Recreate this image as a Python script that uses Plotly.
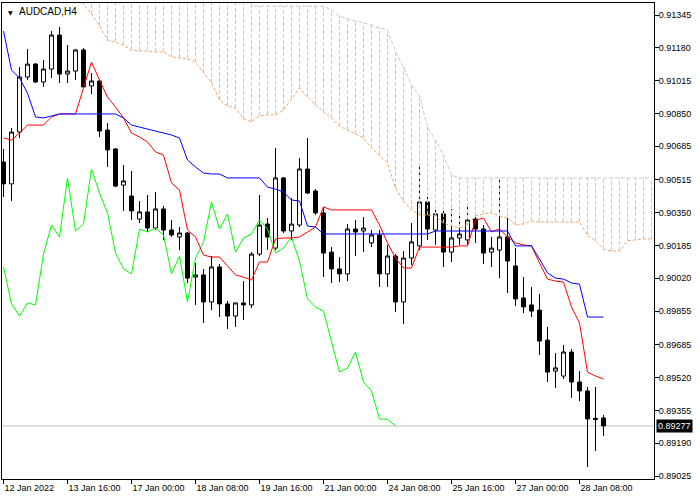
import plotly.graph_objects as go

# ---------------- data (AUDCAD, H4) ----------------
bar_index = list(range(76))

opens = [0.90605, 0.90495, 0.90756, 0.91033, 0.91098, 0.91008, 0.91073, 0.91244, 0.91048, 0.91063,
         0.91169, 0.90988, 0.91013, 0.90766, 0.90671, 0.90489, 0.90434, 0.90318, 0.90354, 0.90273,
         0.90369, 0.90263, 0.90228, 0.90248, 0.90026, 0.90037, 0.89901, 0.90077, 0.89891, 0.89830,
         0.89896, 0.89886, 0.90142, 0.90293, 0.90172, 0.90525, 0.90258, 0.90288, 0.90570, 0.90459,
         0.90349, 0.90152, 0.90067, 0.90042, 0.90268, 0.90258, 0.90198, 0.90238, 0.90042, 0.90132,
         0.89901, 0.90122, 0.90183, 0.90404, 0.90263, 0.90344, 0.90152, 0.90223, 0.90213, 0.90318,
         0.90268, 0.90152, 0.90162, 0.90228, 0.90082, 0.89921, 0.89886, 0.89860, 0.89709, 0.89553,
         0.89528, 0.89649, 0.89498, 0.89453, 0.89315, 0.89317]

highs = [0.90671, 0.90776, 0.91083, 0.91174, 0.91103, 0.91119, 0.91264, 0.91285, 0.91194, 0.91174,
         0.91179, 0.91053, 0.91018, 0.90801, 0.90676, 0.90590, 0.90560, 0.90409, 0.90439, 0.90454,
         0.90384, 0.90313, 0.90278, 0.90253, 0.90097, 0.90067, 0.90132, 0.90092, 0.89906, 0.89896,
         0.90006, 0.90152, 0.90439, 0.90323, 0.90676, 0.90530, 0.90424, 0.90625, 0.90726, 0.90469,
         0.90379, 0.90177, 0.90127, 0.90293, 0.90313, 0.90328, 0.90263, 0.90263, 0.90188, 0.90142,
         0.90157, 0.90298, 0.90585, 0.90429, 0.90374, 0.90374, 0.90369, 0.90354, 0.90379, 0.90328,
         0.90288, 0.90228, 0.90520, 0.90344, 0.90172, 0.90026, 0.89976, 0.89941, 0.89775, 0.89644,
         0.89684, 0.89664, 0.89553, 0.89473, 0.89473, 0.89332]

lows = [0.90429, 0.90409, 0.90726, 0.91018, 0.91003, 0.90983, 0.91028, 0.91003, 0.91003, 0.91018,
        0.90978, 0.90947, 0.90731, 0.90580, 0.90479, 0.90359, 0.90313, 0.90298, 0.90253, 0.90263,
        0.90213, 0.90228, 0.90162, 0.89996, 0.89886, 0.89795, 0.89860, 0.89825, 0.89765, 0.89775,
        0.89810, 0.89870, 0.90132, 0.90162, 0.90162, 0.90248, 0.90213, 0.90278, 0.90444, 0.90339,
        0.90026, 0.89996, 0.90001, 0.90006, 0.90132, 0.90152, 0.90177, 0.89976, 0.89976, 0.89850,
        0.89790, 0.90087, 0.90162, 0.90213, 0.90188, 0.90077, 0.90102, 0.90188, 0.90188, 0.90198,
        0.90092, 0.90077, 0.90021, 0.89946, 0.89881, 0.89845, 0.89825, 0.89634, 0.89498, 0.89468,
        0.89513, 0.89418, 0.89402, 0.89070, 0.89151, 0.89226]

closes = [0.90495, 0.90756, 0.91033, 0.91098, 0.91008, 0.91073, 0.91244, 0.91048, 0.91063, 0.91169,
          0.90983, 0.91013, 0.90761, 0.90666, 0.90484, 0.90510, 0.90359, 0.90354, 0.90273, 0.90369,
          0.90263, 0.90238, 0.90248, 0.90021, 0.90037, 0.89901, 0.90077, 0.89891, 0.89830, 0.89896,
          0.89886, 0.90142, 0.90288, 0.90228, 0.90525, 0.90258, 0.90293, 0.90570, 0.90449, 0.90349,
          0.90147, 0.90067, 0.90042, 0.90268, 0.90253, 0.90273, 0.90238, 0.90042, 0.90132, 0.89901,
          0.90122, 0.90203, 0.90404, 0.90268, 0.90344, 0.90152, 0.90223, 0.90243, 0.90313, 0.90268,
          0.90147, 0.90172, 0.90228, 0.90107, 0.89916, 0.89876, 0.89855, 0.89704, 0.89548, 0.89569,
          0.89649, 0.89498, 0.89453, 0.89312, 0.89310, 0.89277]

tenkan = [0.90726, 0.90716, 0.90751, 0.90791, 0.90791, 0.90791, 0.90832, 0.90847, 0.90847, 0.90847,
          0.90978, 0.91108, 0.91018, 0.90932, 0.90882, 0.90827, 0.90751, 0.90731, 0.90706, 0.90656,
          0.90640, 0.90500, 0.90464, 0.90263, 0.90228, 0.90137, 0.90127, 0.90127, 0.90082, 0.90037,
          0.90026, 0.90011, 0.90102, 0.90102, 0.90218, 0.90223, 0.90223, 0.90228, 0.90253, 0.90278,
          0.90379, 0.90364, 0.90364, 0.90364, 0.90364, 0.90364, 0.90364, 0.90288, 0.90198, 0.90122,
          0.90072, 0.90072, 0.90177, 0.90177, 0.90177, 0.90177, 0.90177, 0.90183, 0.90183, 0.90313,
          0.90323, 0.90253, 0.90268, 0.90228, 0.90198, 0.90188, 0.90183, 0.90097, 0.90016, 0.90006,
          0.90001, 0.89876, 0.89795, 0.89548, 0.89528, 0.89513]

kijun = [0.91264, 0.91068, 0.91028, 0.90952, 0.90832, 0.90827, 0.90837, 0.90847, 0.90847, 0.90847,
         0.90847, 0.90847, 0.90847, 0.90847, 0.90847, 0.90827, 0.90791, 0.90781, 0.90771, 0.90761,
         0.90751, 0.90741, 0.90726, 0.90615, 0.90580, 0.90550, 0.90545, 0.90545, 0.90525, 0.90525,
         0.90525, 0.90525, 0.90525, 0.90479, 0.90469, 0.90454, 0.90414, 0.90409, 0.90283, 0.90278,
         0.90243, 0.90243, 0.90243, 0.90243, 0.90243, 0.90243, 0.90243, 0.90243, 0.90243, 0.90243,
         0.90243, 0.90243, 0.90243, 0.90243, 0.90258, 0.90258, 0.90258, 0.90258, 0.90258, 0.90258,
         0.90258, 0.90258, 0.90258, 0.90258, 0.90183, 0.90183, 0.90183, 0.90117, 0.90047, 0.90021,
         0.90016, 0.89996, 0.89991, 0.89825, 0.89825, 0.89825]

# cloud (shifted 26 bars ahead -> extends past the last candle)
cloud_index = list(range(82))

span_a = [0.91900, 0.91850, 0.91800, 0.91750, 0.91700, 0.91650, 0.91600, 0.91550, 0.91500, 0.91450,
          0.91400, 0.91350, 0.91290, 0.91219, 0.91209, 0.91194, 0.91169, 0.91164, 0.91164, 0.91159,
          0.91159, 0.91134, 0.91129, 0.91124, 0.91108, 0.91053, 0.91003, 0.90917, 0.90887, 0.90877,
          0.90822, 0.90807, 0.90837, 0.90842, 0.90842, 0.90867, 0.90922, 0.90978, 0.90932, 0.90892,
          0.90857, 0.90827, 0.90786, 0.90766, 0.90746, 0.90726, 0.90676, 0.90640, 0.90600, 0.90474,
          0.90409, 0.90364, 0.90339, 0.90339, 0.90333, 0.90298, 0.90283, 0.90273, 0.90288, 0.90333,
          0.90344, 0.90349, 0.90333, 0.90323, 0.90288, 0.90293, 0.90308, 0.90303, 0.90303, 0.90303,
          0.90303, 0.90303, 0.90303, 0.90238, 0.90208, 0.90167, 0.90157, 0.90157, 0.90208, 0.90213,
          0.90218, 0.90218]

span_b = [0.91950] * 31 + \
         [0.91390, 0.91390, 0.91390, 0.91390, 0.91390, 0.91390, 0.91390, 0.91390, 0.91390, 0.91390,
          0.91370, 0.91340, 0.91325, 0.91315, 0.91305, 0.91295, 0.91280, 0.91270, 0.91159,
          0.91083, 0.90993, 0.90937, 0.90781, 0.90716, 0.90640, 0.90540] + [0.90525] * 25

tick_bars = [0, 8, 16, 24, 32, 40, 48, 56, 64, 72]
tick_labels = ["12 Jan 2022", "13 Jan 16:00", "17 Jan 00:00", "18 Jan 08:00", "19 Jan 16:00",
               "21 Jan 00:00", "24 Jan 08:00", "25 Jan 16:00", "27 Jan 00:00", "28 Jan 08:00"]

price_ticks = [0.91345, 0.91180, 0.91015, 0.90850, 0.90685, 0.90515, 0.90350, 0.90185,
               0.90020, 0.89855, 0.89685, 0.89520, 0.89355, 0.89190, 0.89025]

symbol_label = "AUDCAD,H4"
chikou_shift = 26

# ---------------- figure ----------------
FONT = "Liberation Sans, Arial, sans-serif"

hatch_x, hatch_y = [], []
for i, a, b in zip(cloud_index, span_a, span_b):
    hatch_x += [i, i, None]
    hatch_y += [a, b, None]

fig = go.Figure()

fig.add_trace(go.Scatter(x=hatch_x, y=hatch_y, mode="lines",
                         line=dict(color="#d8bfd8", width=1, dash="4px,2px"),
                         hoverinfo="skip"))
fig.add_trace(go.Scatter(x=cloud_index, y=span_b, mode="lines",
                         line=dict(color="#d8bfd8", width=1, dash="4px,2px")))
fig.add_trace(go.Scatter(x=cloud_index, y=span_a, mode="lines",
                         line=dict(color="#f4a460", width=1, dash="3px,2px")))

fig.add_trace(go.Candlestick(
    x=bar_index, open=opens, high=highs, low=lows, close=closes,
    increasing=dict(line=dict(color="black", width=1), fillcolor="white"),
    decreasing=dict(line=dict(color="black", width=1), fillcolor="black"),
    whiskerwidth=0))

fig.add_trace(go.Scatter(x=bar_index[:-chikou_shift], y=closes[chikou_shift:], mode="lines",
                         line=dict(color="#00ff00", width=1)))
fig.add_trace(go.Scatter(x=bar_index, y=tenkan, mode="lines",
                         line=dict(color="#ff0000", width=1)))
fig.add_trace(go.Scatter(x=bar_index, y=kijun, mode="lines",
                         line=dict(color="#0000ff", width=1)))

last_close = closes[-1]
fig.add_shape(type="line", xref="paper", x0=0, x1=1, y0=last_close, y1=last_close,
              line=dict(color="#c0c0c0", width=1), layer="below")

fig.add_annotation(x=1, xref="paper", y=last_close, yref="y", xanchor="left", yanchor="middle",
                   xshift=2, text=f"{last_close:.5f}", showarrow=False,
                   font=dict(family=FONT, size=9, color="white"), bgcolor="black", borderpad=1)
fig.add_annotation(x=0, xref="paper", y=1, yref="paper", xanchor="left", yanchor="top",
                   xshift=4, yshift=-4, text="▼", showarrow=False,
                   font=dict(family="DejaVu Sans", size=6, color="black"))
fig.add_annotation(x=0, xref="paper", y=1, yref="paper", xanchor="left", yanchor="top",
                   xshift=15, yshift=-1, text=symbol_label, showarrow=False,
                   font=dict(family=FONT, size=10, color="black"))

fig.update_layout(
    width=700, height=500,
    margin=dict(l=2, r=46, t=3, b=21),
    paper_bgcolor="white", plot_bgcolor="white",
    showlegend=False,
    boxgap=0.3,
    font=dict(family=FONT, size=9, color="black"),
    xaxis=dict(range=[-0.1875, 81.3125], tickmode="array", tickvals=tick_bars, ticktext=tick_labels,
               ticks="outside", ticklen=4, tickcolor="black", showline=True, linecolor="black",
               mirror=True, showgrid=False, zeroline=False, ticklabelposition="outside right",
               rangeslider=dict(visible=False), tickfont=dict(family=FONT, size=9, color="black")),
    yaxis=dict(side="right", range=[0.890099, 0.914054], tickmode="array", tickvals=price_ticks,
               ticktext=[f"{p:.5f}" for p in price_ticks], ticks="outside", ticklen=4,
               tickcolor="black", showline=True, linecolor="black", mirror=True,
               showgrid=False, zeroline=False, ticklabelstandoff=-2,
               tickfont=dict(family=FONT, size=9, color="black")),
)

fig.write_html("out.html", config={"displayModeBar": False},
               post_script="document.body.style.margin='0';document.body.style.overflow='hidden';")
